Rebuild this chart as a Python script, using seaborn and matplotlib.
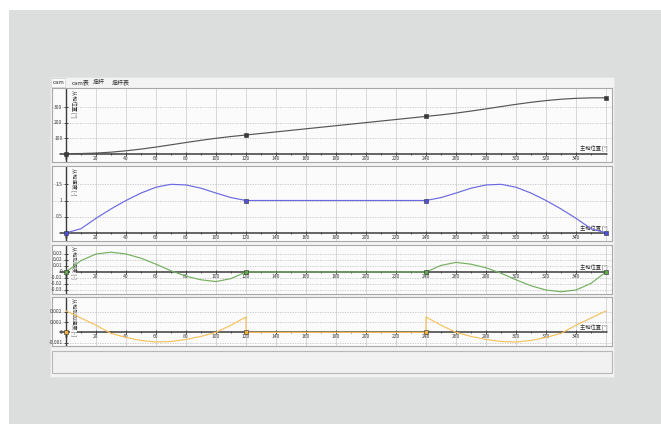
import matplotlib
matplotlib.use("Agg")
import matplotlib.pyplot as plt
import seaborn as sns
from matplotlib.patches import Rectangle

sns.set_theme(style="white")
plt.rcParams['font.family'] = ['Noto Sans CJK SC', 'DejaVu Sans']

# ---- data -------------------------------------------------------------
master_deg = list(range(0, 361, 10))

slave_position = [0, 0.6, 3.5, 9.4, 18.1, 29.2, 42.3, 56.8, 71.6, 85.8, 98.8, 110.3, 120,
                  130, 140, 150, 160, 170, 180, 190, 200, 210, 220, 230, 240,
                  249.7, 261.2, 274.2, 288.4, 303.2, 317.7, 330.8, 341.9, 350.6, 356.5, 359.4, 360]

slave_velocity = [0, 0.13, 0.45, 0.74, 1.0, 1.23, 1.41, 1.5, 1.48, 1.38, 1.23, 1.09, 1.0,
                  1, 1, 1, 1, 1, 1, 1, 1, 1, 1, 1, 1.0,
                  1.09, 1.23, 1.38, 1.48, 1.5, 1.41, 1.23, 1.0, 0.74, 0.45, 0.13, 0]

slave_accel = [0, 0.019, 0.030, 0.033, 0.030, 0.023, 0.013, 0.002, -0.007, -0.013, -0.016, -0.011, 0,
               0, 0, 0, 0, 0, 0, 0, 0, 0, 0, 0, 0,
               0.011, 0.016, 0.013, 0.007, -0.002, -0.013, -0.023, -0.030, -0.033, -0.030, -0.019, 0]

jerk_deg = [0, 10, 20, 30, 40, 50, 60, 70, 80, 90, 100, 110, 120, 120,
            130, 140, 150, 160, 170, 180, 190, 200, 210, 220, 230, 240, 240,
            250, 260, 270, 280, 290, 300, 310, 320, 330, 340, 350, 360]
slave_jerk = [0.0021, 0.0014, 0.0007, -0.0001, -0.0005, -0.0008, -0.00095, -0.0009, -0.0007,
              -0.0004, 0.0, 0.0007, 0.0015, 0,
              0, 0, 0, 0, 0, 0, 0, 0, 0, 0, 0, 0, 0.0015,
              0.0007, 0.0, -0.0004, -0.0007, -0.0009, -0.00095, -0.0008, -0.0005, -0.0001,
              0.0007, 0.0014, 0.0021]

segment_deg = [0, 120, 240, 360]
jerk_marker_deg = [0, 120, 240]
jerk_marker_val = [0, 0, 0]

x_ticks = list(range(0, 341, 20))
x_minor = list(range(10, 360, 20))
x_grid = list(range(20, 361, 20))

pos_ticks = [100, 200, 300]
vel_ticks = [0.5, 1, 1.5]
acc_ticks = [0.03, 0.02, 0.01, 0, -0.01, -0.02, -0.03]
jerk_ticks = [0.002, 0.001, 0, -0.001]

pos_tick_labels = ["100", "200", "300"]
vel_tick_labels = ["0.5", "1", "1.5"]
acc_tick_labels = ["0.03", "0.02", "0.01", "0", "-0.01", "-0.02", "-0.03"]
jerk_tick_labels = ["0.002", "0.001", "0", "-0.001"]

tab_names = ["cam", "cam表", "摇杆", "摇杆表"]
x_title = "主轴位置 [°]"
y_titles = ["从轴位置 [°]", "从轴速度 [-]", "从轴加速度 [-]", "从轴加加速度 [-]"]

# ---- figure ------------------------------------------------------------
W, H = 661, 424
fig = plt.figure(figsize=(W / 100, H / 100), dpi=100)
fig.patch.set_facecolor("white")

bg = fig.add_axes([0, 0, 1, 1], zorder=-5)
bg.set_xlim(0, W)
bg.set_ylim(H, 0)
bg.axis("off")
bg.add_patch(Rectangle((9, 10), W - 9, H - 10, facecolor="#dcdedd", edgecolor="none"))
bg.add_patch(Rectangle((50, 77), 564, 300, facecolor="#f3f3f3", edgecolor="#e4e4e4", lw=0.6))
bg.add_patch(Rectangle((50.5, 78), 14, 9, facecolor="#fbfbfb", edgecolor="#d0d0d0", lw=0.5))
for name, tx in zip(tab_names, [52.5, 72, 93, 112]):
    bg.text(tx, 82.5, name, fontsize=4.3, ha="left", va="center", color="#303030")
bg.add_patch(Rectangle((52, 351), 560, 22, facecolor="#f1f1f1", edgecolor="#b8b8b8", lw=0.8))


def px_axes(top, bottom, left=52, right=612):
    return fig.add_axes([left / W, 1 - bottom / H, (right - left) / W, (bottom - top) / H])


panels = [
    dict(box=(88, 162), ylim=(-54, 423), x=master_deg, y=slave_position, color="#555555",
         ticks=pos_ticks, labels=pos_tick_labels, mx=segment_deg,
         my=[slave_position[master_deg.index(d)] for d in segment_deg], mcolor="#3a3a3a"),
    dict(box=(166, 241), ylim=(-0.25, 2.065), x=master_deg, y=slave_velocity, color="#6a6ae0",
         ticks=vel_ticks, labels=vel_tick_labels, mx=segment_deg,
         my=[slave_velocity[master_deg.index(d)] for d in segment_deg], mcolor="#5050d8"),
    dict(box=(245, 294), ylim=(-0.0367, 0.045), x=master_deg, y=slave_accel, color="#74b060",
         ticks=acc_ticks, labels=acc_tick_labels, mx=segment_deg,
         my=[slave_accel[master_deg.index(d)] for d in segment_deg], mcolor="#5fa84a"),
    dict(box=(297, 346), ylim=(-0.00134, 0.00346), x=jerk_deg, y=slave_jerk, color="#f6c15e",
         ticks=jerk_ticks, labels=jerk_tick_labels, mx=jerk_marker_deg,
         my=jerk_marker_val, mcolor="#f0b040"),
]

for i, p in enumerate(panels):
    ax = px_axes(*p["box"])
    ax.set_facecolor("#fbfbfb")
    ax.set_xlim(-9.33, 364)
    ax.set_ylim(*p["ylim"])
    for s in ax.spines.values():
        s.set_color("#a8a8a8")
        s.set_linewidth(0.8)
    ax.set_xticks([])
    ax.set_yticks([])

    # grid
    for gx in x_grid:
        ax.axvline(gx, color="#d2d2d2", lw=0.6, zorder=0)
    for gy in p["ticks"]:
        if gy != 0:
            ax.axhline(gy, color="#c4c4c4", lw=0.6, ls=(0, (1.5, 1.5)), zorder=0)

    # axis lines
    ax.axhline(0, xmin=(0 + 9.33) / 373.33 - 0.01, xmax=(361 + 9.33) / 373.33,
               color="#3c3c3c", lw=1.1, zorder=2)
    ax.axvline(0, color="#3c3c3c", lw=1.0, zorder=2)

    # ticks
    ax.plot(x_ticks[1:], [0] * (len(x_ticks) - 1), ls="none", marker="|", ms=2.5,
            mew=0.6, color="#3c3c3c", zorder=2)
    ax.plot(x_minor, [0] * len(x_minor), ls="none", marker="|", ms=1.6,
            mew=0.6, color="#3c3c3c", zorder=2)
    ax.plot([0] * len(p["ticks"]), p["ticks"], ls="none", marker="_", ms=3,
            mew=0.6, color="#3c3c3c", zorder=2)

    for t in x_ticks:
        ax.annotate(str(t), (t, 0), xytext=(0, -1.5), textcoords="offset points",
                    ha="center", va="top", fontsize=3.6, color="#404040")
    for t, lab in zip(p["ticks"], p["labels"]):
        ax.annotate(lab, (0, t), xytext=(-2.5, 0), textcoords="offset points",
                    ha="right", va="center", fontsize=3.6, color="#404040")

    # axis titles sit under the curve
    ax.annotate(x_title, (361, 0), xytext=(0, 1), textcoords="offset points",
                fontsize=3.8, ha="right", va="bottom", color="#303030", zorder=2.5,
                bbox=dict(facecolor="#fbfbfb", edgecolor="none", pad=0.3))
    ax.text(0.033, 0.97, y_titles[i], transform=ax.transAxes, rotation=-90, fontsize=3.8,
            ha="left", va="top", color="#303030", zorder=2.5,
            bbox=dict(facecolor="#fbfbfb", edgecolor="none", pad=0.2))

    # curve
    sns.lineplot(x=p["x"], y=p["y"], ax=ax, color=p["color"], lw=0.85,
                 estimator=None, sort=False, zorder=3)
    sns.scatterplot(x=p["mx"], y=p["my"], ax=ax, marker="s", s=7, color=p["mcolor"],
                    edgecolor="#303030", linewidth=0.4, zorder=4)

    ax.set_xlabel("")
    ax.set_ylabel("")

fig.savefig("out.png", dpi=100, facecolor=fig.get_facecolor())
